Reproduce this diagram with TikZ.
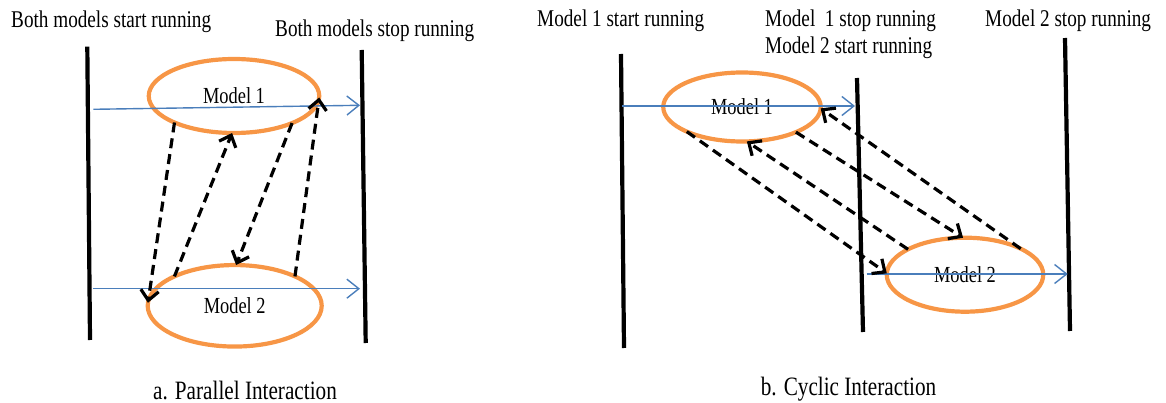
\documentclass[tikz,border=0pt]{standalone}
\usepackage{fontspec}
\setmainfont{Liberation Serif}[FakeStretch=0.8]
\usetikzlibrary{shapes.geometric,arrows.meta,positioning}
\definecolor{modelorange}{HTML}{F79646}
\definecolor{flowblue}{HTML}{4A7EBB}
\begin{document}
\begin{tikzpicture}[x=1pt, y=-1pt,
		model/.style = {draw=modelorange, ellipse, line width=4.2pt, inner sep=0pt, outer sep=0pt, font=\fontsize{23}{27}\selectfont},
		timeline/.style = {line width=4.2pt},
		run/.style = {draw=flowblue, line width=1.4pt, -{Straight Barb[length=12pt,width=19pt]}},
		msg/.style = {dash pattern=on 10pt off 6pt, line width=3.2pt, -{Straight Barb[length=10pt,width=18pt]}},
		lbl/.style = {anchor=base west, inner sep=0pt, font=\fontsize{24}{27}\selectfont},
		subtitle/.style = {anchor=base, inner sep=0pt, font=\fontsize{26.5}{30}\selectfont}]
		\useasboundingbox (0,0) rectangle (1166,403);
		\node[lbl] (t1) at (11,28) {Both models start running};
		\node[lbl] (t2) at (275,37) {Both models stop running};
		\node[lbl] (t3) at (537,27) {Model 1 start running};
		\node[lbl] (t4) at (765,27) {Model\ \ 1 stop running};
		\node[lbl] (t5) at ([yshift=-26.5pt]t4.base west) {Model 2 start running};
		\node[lbl] (t6) at (985,27) {Model 2 stop running};
		\node[subtitle] (sa) at (245,399) {a. Parallel Interaction};
		\node[subtitle] (sb) at (848.5,395) {b. Cyclic Interaction};
		\coordinate (a0t) at (87.3,46.7);
		\coordinate (a0b) at (90,340);
		\coordinate (a3t) at (361.7,50);
		\coordinate (a3b) at (365.7,343);
		\coordinate (b0t) at (621,54);
		\coordinate (b0b) at (624,348);
		\coordinate (b3t) at (857,78);
		\coordinate (b3b) at (863,332);
		\coordinate (b5t) at (1065,38);
		\coordinate (b5b) at (1070,331);
		\draw[timeline] (a0t) -- (a0b);
		\draw[timeline] (a3t) -- (a3b);
		\draw[timeline] (b0t) -- (b0b);
		\draw[timeline] (b3t) -- (b3b);
		\draw[timeline] (b5t) -- (b5b);
		\node[model, minimum width=170.5pt, minimum height=74pt] (a1) at (234,96) {Model 1};
		\node[model, minimum width=174pt, minimum height=81.5pt] (a2) at (234.7,305.8) {Model 2};
		\node[model, minimum width=157.5pt, minimum height=69pt] (b1) at (742,107) {Model 1};
		\node[model, minimum width=156.5pt, minimum height=74pt] (b2) at (965,274.7) {Model 2};
		\coordinate (a1s) at (93.3,109.3);
		\coordinate (a1e) at (360,105.3);
		\coordinate (a2s) at (93.3,288.7);
		\coordinate (a2e) at (360,288.7);
		\coordinate (b1s) at (622,106);
		\coordinate (b1e) at (855,106);
		\coordinate (b2s) at (866.7,274);
		\coordinate (b2e) at (1067.7,274);
		\draw[run] (a1s) -- (a1e);
		\draw[run] (a2s) -- (a2e);
		\draw[run] (b1s) -- (b1e);
		\draw[run] (b2s) -- (b2e);
		\draw[msg] (a1.204) -- (a2.178);
		\draw[msg] (a2.154) -- (a1.267);
		\draw[msg] (a1.335) -- (a2.88);
		\draw[msg] (a2.26) -- (a1.359);
		\draw[msg] (b1.204) -- (b2.179);
		\draw[msg] (b2.156) -- (b1.278);
		\draw[msg] (b1.335) -- (b2.93);
		\draw[msg] (b2.25) -- (b1.359);
	\end{tikzpicture}
\end{document}
